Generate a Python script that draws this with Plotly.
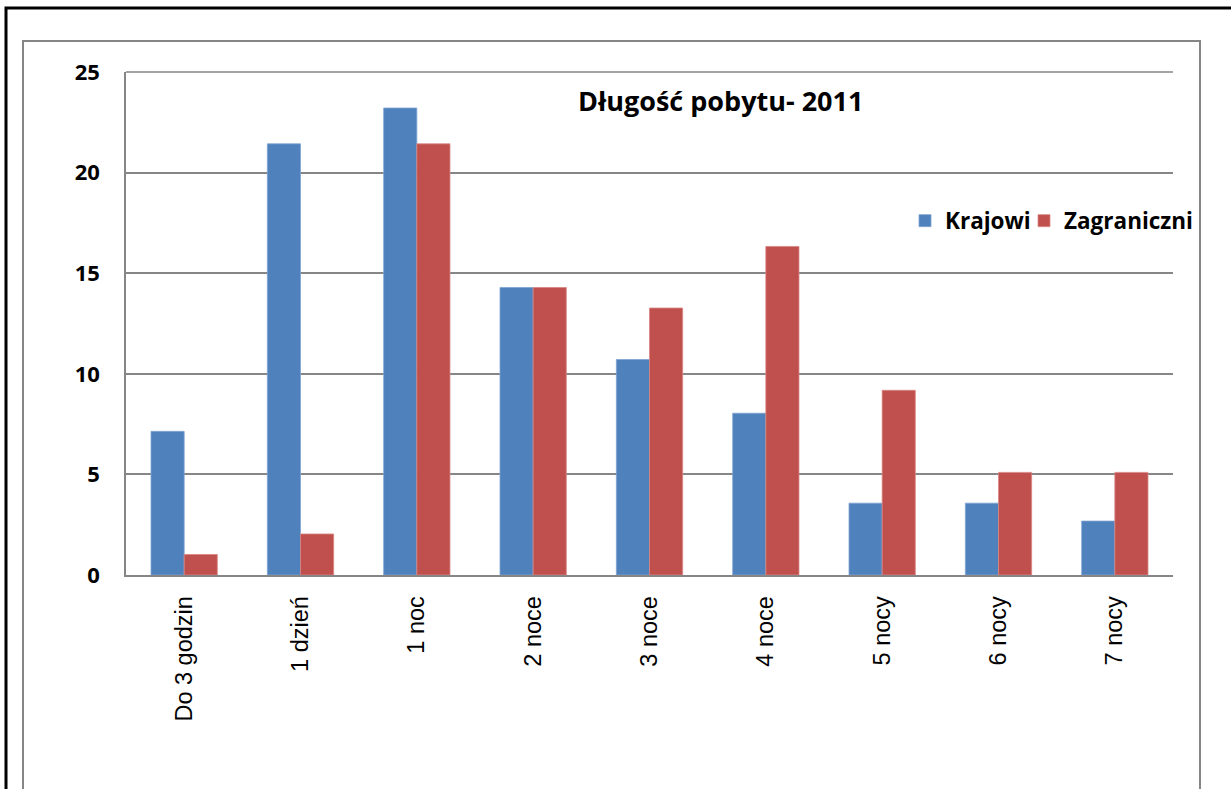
import plotly.graph_objects as go

categories = ["Do 3 godzin", "1 dzień", "1 noc", "2 noce", "3 noce", "4 noce", "5 nocy", "6 nocy", "7 nocy"]
krajowi = [7.14, 21.43, 23.21, 14.29, 10.71, 8.04, 3.57, 3.57, 2.68]
zagraniczni = [1.02, 2.04, 21.43, 14.29, 13.27, 16.33, 9.18, 5.10, 5.10]
y_ticks = [0, 5, 10, 15, 20, 25]

W, H = 1231, 789
L, R, T, B = 126, 1173, 72, 575

def px(x):
    return (x - L) / (R - L)

def py(y):
    return (B - y) / (B - T)

BOLD = "Open Sans, Lato, sans-serif"

fig = go.Figure()
fig.add_trace(go.Bar(name="Krajowi", x=categories, y=krajowi, legend="legend",
                     marker=dict(color="#4F81BD", line=dict(color="#7FA3D0", width=0.8))))
fig.add_trace(go.Bar(name="Zagraniczni", x=categories, y=zagraniczni, legend="legend2",
                     marker=dict(color="#C0504D", line=dict(color="#D88684", width=0.8))))

legend_font = dict(family=BOLD, size=22.5, color="black", weight="bold")

fig.update_layout(
    width=W, height=H,
    margin=dict(l=L, r=W - R, t=T, b=H - B),
    paper_bgcolor="white", plot_bgcolor="white",
    barmode="group", bargap=0.43, bargroupgap=0,
    showlegend=True,
    legend=dict(x=px(905), y=py(221), xanchor="left", yanchor="middle",
                font=legend_font, itemwidth=30, bgcolor="rgba(0,0,0,0)"),
    legend2=dict(x=px(1024), y=py(221), xanchor="left", yanchor="middle",
                 font=legend_font, itemwidth=30, bgcolor="rgba(0,0,0,0)"),
    xaxis=dict(showgrid=False, showline=True, linecolor="#868686", linewidth=1.5,
               tickangle=-90, tickfont=dict(family="Liberation Sans, Arial, sans-serif", size=23.5, color="black"),
               ticks="", ticklabelstandoff=10),
    yaxis=dict(range=[0, 25], tickvals=y_ticks, showgrid=True, gridcolor="#868686", gridwidth=1.5,
               showline=True, linecolor="#868686", linewidth=1.5, zeroline=False,
               tickfont=dict(family=BOLD, size=22, color="black", weight="bold"),
               ticks="", ticklabelstandoff=20),
    annotations=[dict(text="<b>Długość pobytu- 2011</b>", x=px(720), y=py(101), xref="paper", yref="paper",
                      xanchor="center", yanchor="middle", showarrow=False,
                      font=dict(family=BOLD, size=27, color="black"))],
    shapes=[
        dict(type="rect", xref="paper", yref="paper", x0=px(6), x1=px(1300), y0=py(8), y1=py(850),
             line=dict(color="black", width=3), fillcolor="rgba(0,0,0,0)", layer="below"),
        dict(type="rect", xref="paper", yref="paper", x0=px(23), x1=px(1200), y0=py(41), y1=py(850),
             line=dict(color="#868686", width=2), fillcolor="rgba(0,0,0,0)", layer="below"),
        dict(type="line", xref="paper", yref="paper", x0=0, x1=1, y0=1, y1=1,
             line=dict(color="#868686", width=1.5)),
    ],
)

fig.write_html("out.html", config={"displayModeBar": False},
               post_script="document.body.style.margin='0';document.body.style.overflow='hidden';")
